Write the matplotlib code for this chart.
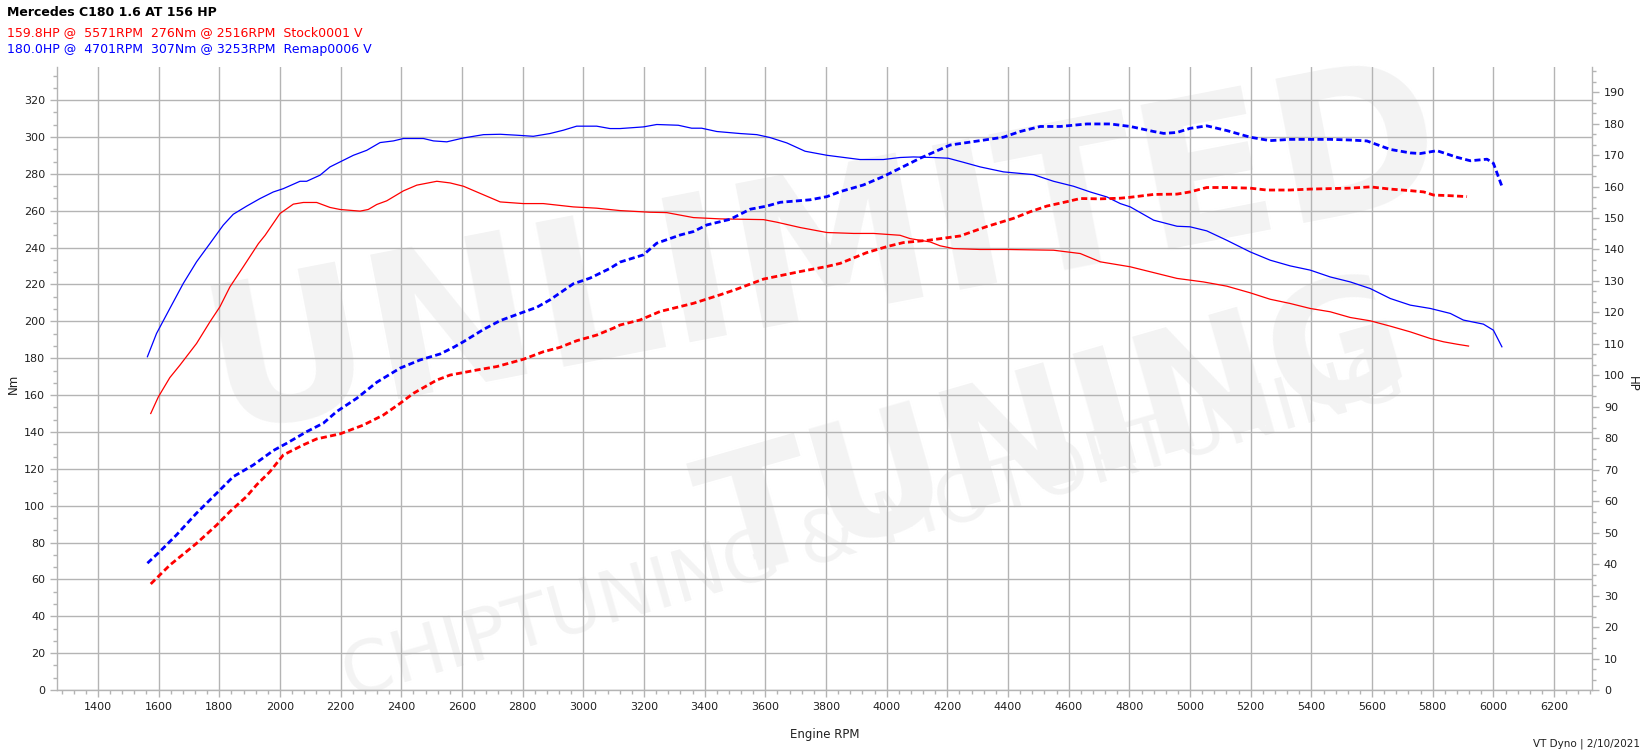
import matplotlib
matplotlib.use("Agg")
import matplotlib.pyplot as plt
from matplotlib.ticker import MultipleLocator

# Remap run (blue) - torque
remap_tq_rpm = [1563, 1593, 1637, 1681, 1725, 1769, 1813, 1846, 1890, 1934, 1978, 2011, 2066, 2088,
                2132, 2165, 2209, 2242, 2286, 2330, 2374, 2407, 2473, 2506, 2550, 2605, 2671, 2726,
                2780, 2835, 2890, 2934, 2978, 3044, 3088, 3121, 3198, 3242, 3313, 3357, 3390, 3440,
                3517, 3572, 3616, 3671, 3731, 3803, 3912, 3989, 4044, 4088, 4154, 4203, 4253, 4308,
                4385, 4484, 4550, 4616, 4671, 4726, 4770, 4803, 4880, 4957, 5000, 5055, 5121, 5198,
                5264, 5330, 5396, 5462, 5528, 5594, 5660, 5726, 5792, 5858, 5901, 5967, 6000, 6028]
remap_tq = [180.8, 193.4, 207, 220.5, 232.3, 242.2, 252.2, 258.1, 262.5, 266.6, 270.2, 272, 276, 276,
            279.3, 283.8, 287.4, 290.1, 292.8, 297, 297.9, 299.2, 299.2, 297.9, 297.4, 299.5, 301.3, 301.5,
            301, 300.4, 301.9, 303.7, 305.9, 305.9, 304.6, 304.6, 305.5, 306.8, 306.4, 304.8, 304.8, 303,
            301.9, 301.3, 299.7, 296.8, 292.3, 290.1, 287.8, 287.8, 288.9, 289.2, 288.9, 288.5, 286.3, 283.8,
            281.1, 279.6, 276, 273.3, 270.2, 267.5, 263.9, 262.1, 254.9, 251.6, 251.3, 249.1, 244, 237.7,
            233.2, 230.1, 227.8, 224.1, 221.4, 217.8, 212.4, 208.8, 207, 204.3, 200.7, 198.5, 195.2, 186.2]

# Stock run (red) - torque
stock_tq_rpm = [1574, 1599, 1637, 1670, 1725, 1769, 1802, 1835, 1879, 1929, 1951, 2000, 2044, 2077,
                2121, 2165, 2198, 2264, 2291, 2319, 2352, 2407, 2451, 2517, 2561, 2605, 2649, 2726,
                2802, 2868, 2967, 3044, 3121, 3220, 3275, 3363, 3451, 3594, 3638, 3715, 3803, 3891,
                3957, 4044, 4077, 4143, 4176, 4220, 4308, 4396, 4550, 4638, 4704, 4770, 4803, 4869,
                4957, 5044, 5121, 5198, 5264, 5330, 5396, 5462, 5528, 5594, 5660, 5726, 5792, 5836,
                5880, 5918]
stock_tq = [150, 159, 169.5, 176.2, 188, 199.7, 207.9, 218.7, 229.6, 242.2, 246.7, 258.5, 263.6, 264.5,
            264.5, 261.8, 260.7, 259.8, 260.7, 263.4, 265.4, 270.8, 273.9, 276, 275.1, 273.3, 270.2, 264.8,
            263.9, 263.9, 262.1, 261.4, 260.1, 259.2, 259, 256.3, 255.6, 255.2, 253.8, 250.9, 248.2, 247.7,
            247.7, 246.7, 244.9, 243.1, 241, 239.5, 239, 239, 238.6, 236.8, 232.3, 230.5, 229.6, 226.9,
            223.3, 221.4, 219.1, 215.5, 212, 209.7, 207, 205.2, 202.1, 200.3, 197.4, 194.3, 190.7, 188.9,
            187.6, 186.6]

# Remap run (blue) - power
remap_hp_rpm = [1563, 1604, 1659, 1725, 1791, 1846, 1912, 1978, 2022, 2088, 2143, 2187, 2253, 2319,
                2396, 2462, 2528, 2572, 2605, 2671, 2726, 2791, 2846, 2890, 2967, 3022, 3088, 3121,
                3198, 3242, 3319, 3363, 3407, 3484, 3550, 3605, 3649, 3748, 3803, 3847, 3923, 3989,
                4033, 4110, 4209, 4308, 4385, 4440, 4506, 4572, 4660, 4737, 4803, 4880, 4913, 4957,
                5000, 5055, 5121, 5198, 5264, 5330, 5462, 5528, 5583, 5660, 5726, 5759, 5814, 5880,
                5924, 5979, 6000, 6028]
remap_hp = [40.3, 44, 49.3, 56.2, 62.5, 67.8, 71.5, 76.1, 78.4, 82.1, 84.8, 88.5, 92.7, 97.8,
            102.3, 104.9, 106.8, 108.9, 110.7, 114.6, 117.4, 119.7, 121.6, 124, 129.1, 130.9, 134, 136,
            138.3, 142, 144.6, 145.7, 147.8, 149.6, 152.8, 153.8, 155, 155.8, 156.8, 158.4, 160.5, 163.2,
            165.3, 169, 173.2, 174.6, 175.7, 177.5, 179.1, 179.1, 179.9, 179.9, 179.1, 177.5, 176.9, 177.2,
            178.5, 179.3, 177.8, 175.7, 174.6, 175, 175, 174.8, 174.5, 171.8, 170.7, 170.5, 171.4, 169.3,
            168.2, 168.7, 167.4, 160.1]

# Stock run (red) - power
stock_hp_rpm = [1574, 1637, 1725, 1791, 1835, 1890, 1923, 1967, 2011, 2077, 2121, 2198, 2275, 2341,
                2396, 2440, 2517, 2561, 2605, 2649, 2715, 2802, 2868, 2923, 2978, 3044, 3099, 3121,
                3187, 3253, 3363, 3451, 3506, 3594, 3715, 3803, 3847, 3934, 4000, 4055, 4143, 4242,
                4330, 4418, 4473, 4528, 4594, 4638, 4704, 4770, 4803, 4880, 4957, 5000, 5055, 5121,
                5198, 5253, 5330, 5396, 5528, 5594, 5660, 5726, 5770, 5803, 5858, 5913]
stock_hp = [33.7, 39.7, 46.6, 52.4, 56.7, 61.5, 65.2, 69.4, 74.7, 77.9, 79.8, 81.4, 84.2, 87.4,
            91.1, 94.3, 98.5, 100.1, 100.9, 101.7, 102.8, 105.1, 107.5, 108.9, 111, 112.8, 115, 116,
            117.6, 120.3, 122.9, 125.6, 127.4, 130.6, 133, 134.6, 135.6, 139, 140.9, 142.2, 143, 144.3,
            147.3, 149.9, 152, 153.8, 155.2, 156.2, 156.1, 156.3, 156.6, 157.5, 157.6, 158.3, 159.7, 159.7,
            159.5, 158.9, 158.9, 159.2, 159.5, 159.9, 159.2, 158.7, 158.3, 157.3, 157.1, 156.8]

title = "Mercedes C180 1.6 AT 156 HP"
stock_info = "159.8HP @  5571RPM  276Nm @ 2516RPM  Stock0001 V"
remap_info = "180.0HP @  4701RPM  307Nm @ 3253RPM  Remap0006 V"
footer = "VT Dyno | 2/10/2021"

RED = "#ff0000"
BLUE = "#0000ff"
GRID = "#b4b4b4"
TXT = "#202020"

plt.rcParams['font.family'] = ['DejaVu Sans']

fig = plt.figure(figsize=(16.48, 7.54), dpi=100)

# faint watermark, kept behind the axes
wm = "#f3f3f3"
fig.text(0.50, 0.66, "UNLIMITED", fontsize=145, fontweight='bold', color=wm,
         rotation=11, ha='center', va='center', zorder=-5)
fig.text(0.64, 0.42, "TUNING", fontsize=120, fontweight='bold', color=wm,
         rotation=16, ha='center', va='center', zorder=-5)
fig.text(0.53, 0.30, "CHIPTUNING & MOTORTUNING", fontsize=52, color=wm,
         rotation=16, ha='center', va='center', zorder=-5)

host = fig.add_axes([57/1648, 1 - 690/754, (1592 - 57)/1648, (690 - 67)/754])
host.patch.set_visible(False)
par = host.twinx()

host.set_xlim(1265, 6325)
host.set_ylim(0, 338)
par.set_ylim(0, 198)

host.xaxis.set_major_locator(MultipleLocator(200))
host.xaxis.set_minor_locator(MultipleLocator(40))
host.yaxis.set_major_locator(MultipleLocator(20))
host.yaxis.set_minor_locator(MultipleLocator(20/3))
par.yaxis.set_major_locator(MultipleLocator(10))
par.yaxis.set_minor_locator(MultipleLocator(10/3))

host.grid(True, which='major', color=GRID, linewidth=1)
host.set_axisbelow(True)

for ax in (host, par):
    for sp in ax.spines.values():
        sp.set_visible(False)
host.spines['left'].set_visible(True)
host.spines['bottom'].set_visible(True)
par.spines['right'].set_visible(True)
for sp in (host.spines['left'], host.spines['bottom'], par.spines['right']):
    sp.set_color(GRID)
    sp.set_linewidth(1)

tkw = dict(colors=GRID, labelcolor=TXT, labelsize=8)
host.tick_params(which='major', length=5, width=1, **tkw)
host.tick_params(which='minor', length=3, width=1, colors=GRID)
par.tick_params(which='major', length=5, width=1, **tkw)
par.tick_params(which='minor', length=3, width=1, colors=GRID)

# torque - thin solid, power - thick dashed
host.plot(stock_tq_rpm, stock_tq, color=RED, linewidth=0.9)
host.plot(remap_tq_rpm, remap_tq, color=BLUE, linewidth=0.9)
par.plot(stock_hp_rpm, stock_hp, color=RED, linewidth=2, linestyle=(0, (2.2, 1.2)))
par.plot(remap_hp_rpm, remap_hp, color=BLUE, linewidth=2, linestyle=(0, (2.2, 1.2)))

host.set_xlabel("Engine RPM", fontsize=8.5, color=TXT, labelpad=12)
fig.text(13/1648, 1 - 384/754, "Nm", fontsize=8.5, color=TXT, rotation=90,
         ha='center', va='center')
fig.text(1632/1648, 1 - 384/754, "HP", fontsize=8.5, color=TXT, rotation=270,
         ha='center', va='center')

fig.text(7/1648, 1 - 13/754, title, fontsize=9, fontweight='bold', color='black', va='center')
fig.text(7/1648, 1 - 33/754, stock_info, fontsize=9, color=RED, va='center')
fig.text(7/1648, 1 - 50/754, remap_info, fontsize=9, color=BLUE, va='center')
fig.text(1640/1648, 1 - 744/754, footer, fontsize=7.5, color=TXT, ha='right', va='center')

fig.savefig("out.png", dpi=100)
